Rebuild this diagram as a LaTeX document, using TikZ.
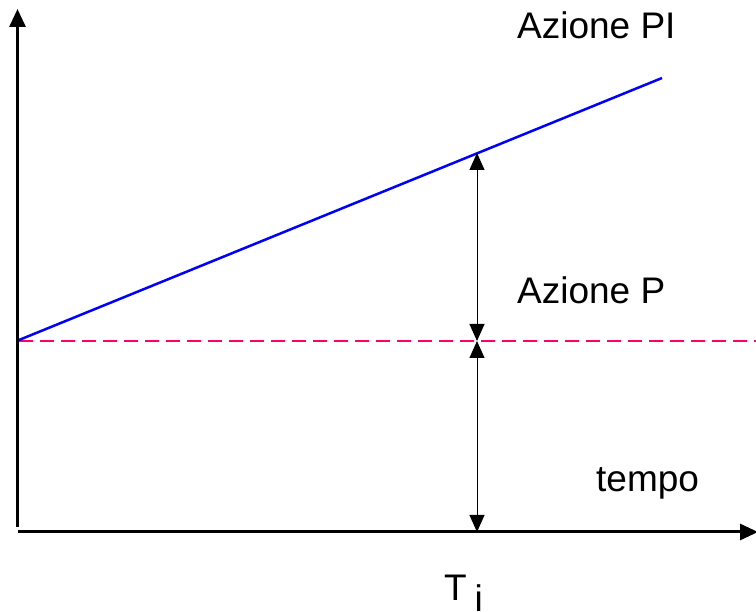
\documentclass[tikz,border=0pt]{standalone}
\usepackage{fontspec}
\setmainfont{Liberation Sans}
\usetikzlibrary{arrows.meta}
\definecolor{pink}{RGB}{255,0,102}
\begin{document}
\begin{tikzpicture}[x=1pt,y=-1pt,
  lbl/.style={inner sep=0pt,anchor=base west,font=\fontsize{37}{40}\selectfont},
  axis/.style={line width=3pt,-{Triangle[width=16pt,length=18pt]}},
  dim/.style={line width=0.9pt,{Triangle[width=15pt,length=17pt]}-{Triangle[width=15pt,length=17pt]}}]
\useasboundingbox (0,0) rectangle (756,612);
\coordinate (vb) at (17.5,527);
\coordinate (vt) at (17.5,9);
\coordinate (hl) at (18,532);
\coordinate (hr) at (758,532);
\coordinate (o) at (19,340);
\coordinate (e) at (662,78);
\coordinate (dl) at (19,341);
\coordinate (dr) at (756,341);
\coordinate (a1) at (477,153);
\coordinate (a2) at (477,341);
\coordinate (a3) at (477,532);
\draw[axis] (vb) -- (vt);
\draw[axis] (hl) -- (hr);
\draw[pink,line width=2.4pt,dash pattern=on 14pt off 7pt] (dl) -- (dr);
\draw[blue,line width=2.5pt] (o) -- (e);
\draw[dim] (a1) -- (a2);
\draw[dim] (a2) -- (a3);
\node[lbl] (pi) at (517,39) {Azione PI};
\node[lbl] (p) at (517,304) {Azione P};
\node[lbl] (t) at (596,492) {tempo};
\node[lbl] (T) at (444,600) {T};
\node[lbl] (i) at (474.5,612) {i};
\end{tikzpicture}
\end{document}
